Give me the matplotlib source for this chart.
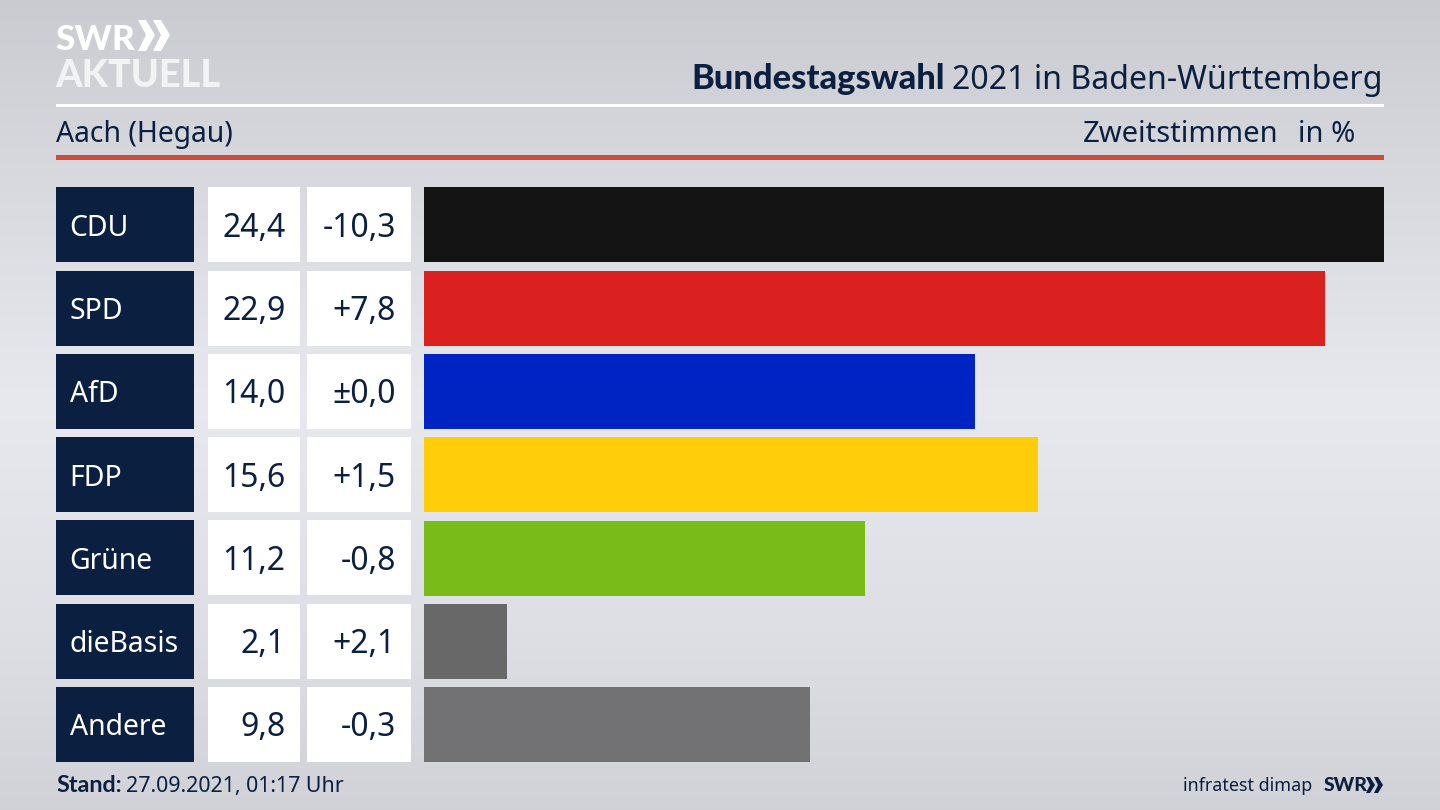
import numpy as np
import matplotlib
matplotlib.use("Agg")
import matplotlib.pyplot as plt
from matplotlib.patches import Rectangle, Polygon

parties = ["CDU", "SPD", "AfD", "FDP", "Grüne", "dieBasis", "Andere"]
shares = [24.4, 22.9, 14.0, 15.6, 11.2, 2.1, 9.8]
share_labels = ["24,4", "22,9", "14,0", "15,6", "11,2", "2,1", "9,8"]
change_labels = ["-10,3", "+7,8", "±0,0", "+1,5", "-0,8", "+2,1", "-0,3"]
bar_colors = ["#141414", "#da211f", "#0023c4", "#ffcd0a", "#79bc1a", "#686868", "#727274"]

NAVY = "#0b1f40"
BOLD = ["Lato", "Liberation Sans", "DejaVu Sans"]
plt.rcParams["font.family"] = ["Noto Sans", "DejaVu Sans"]

fig = plt.figure(figsize=(14.4, 8.1), dpi=100)

# overlay in pixel coordinates, y going down like the reference
bg = fig.add_axes([0, 0, 1, 1])
bg.set_xlim(0, 1440)
bg.set_ylim(810, 0)
bg.axis("off")


def box(x, y, w, h, color, z=2):
    bg.add_patch(Rectangle((x, y), w, h, facecolor=color, edgecolor="none", zorder=z))


# background: light band in the middle, darker to top and bottom
stops_y = [0, 130, 400, 640, 810]
stops_v = [0.79, 0.83, 0.905, 0.865, 0.815]
grad = np.interp(np.arange(810), stops_y, stops_v)
rgb = np.stack([grad, grad + 0.008, grad + 0.03], axis=1)[:, None, :]
bg.imshow(np.clip(rgb, 0, 1), extent=[0, 1440, 810, 0], aspect="auto", zorder=0)

# logo
bg.text(55, 50, "SWR", color="white", fontsize=25.5, fontweight="black", family=BOLD, va="baseline", ha="left")
for x0 in [138, 153]:
    bg.add_patch(Polygon([(x0, 20), (x0 + 8, 20), (x0 + 17, 35), (x0 + 8, 51), (x0, 51), (x0 + 8, 35)],
                         facecolor="white", edgecolor="none", zorder=2))
bg.text(55, 87, "AKTUELL", color="#f2f3f5", fontsize=27.3, fontweight="black", family=BOLD, va="baseline", ha="left")

# header
bg.text(1383, 89, "2021 in Baden-Württemberg", color=NAVY, fontsize=23.1, ha="right", va="baseline")
bg.text(945, 89, "Bundestagswahl", color=NAVY, fontsize=24.8, fontweight="black", family=BOLD, ha="right", va="baseline")
box(56, 104, 1328, 3, "white")
bg.text(56, 142, "Aach (Hegau)", color=NAVY, fontsize=20.4, va="baseline", ha="left")
bg.text(1278.5, 142, "Zweitstimmen", color=NAVY, fontsize=21, va="baseline", ha="right")
bg.text(1355, 142, "in %", color=NAVY, fontsize=21, va="baseline", ha="right")
box(56, 155, 1328, 5, "#cd4d3c")

# table cells left of the bars
row_top = 187.4
row_step = 83.25
row_h = 75
for i in range(len(parties)):
    y = row_top + i * row_step
    base = y + row_h / 2 + 12
    box(56, y, 138, row_h, NAVY)
    box(208, y, 92, row_h, "white")
    box(307, y, 104, row_h, "white")
    bg.text(69.5, base - 1, parties[i], color="white", fontsize=20.4, va="baseline", ha="left", zorder=3)
    bg.text(285.5, base, share_labels[i], color=NAVY, fontsize=23, va="baseline", ha="right", zorder=3)
    bg.text(396, base, change_labels[i], color=NAVY, fontsize=23, va="baseline", ha="right", zorder=3)

# bars
ax = fig.add_axes([424 / 1440, (810 - 762.4) / 810, 960 / 1440, 575 / 810])
ax.patch.set_alpha(0)
ypos = np.arange(len(parties))
ax.barh(ypos, shares, height=row_h / row_step, color=bar_colors)
ax.set_xlim(0, max(shares))
ax.set_ylim(len(parties) - 1 + row_h / row_step / 2, -row_h / row_step / 2)
ax.axis("off")

# footer
bg.text(56, 792, "Stand:", color=NAVY, fontsize=16.8, fontweight="bold", family=BOLD, va="baseline", ha="left")
bg.text(126, 792, "27.09.2021, 01:17 Uhr", color=NAVY, fontsize=15.4, va="baseline", ha="left")
bg.text(1312, 791, "infratest dimap", color=NAVY, fontsize=12.9, va="baseline", ha="right")
bg.text(1324, 791, "SWR", color=NAVY, fontsize=14, fontweight="black", family=BOLD, va="baseline", ha="left")
for x0 in [1366, 1374]:
    bg.add_patch(Polygon([(x0, 777), (x0 + 4, 777), (x0 + 9, 785), (x0 + 4, 793), (x0, 793), (x0 + 4, 785)],
                         facecolor=NAVY, edgecolor="none", zorder=2))

fig.savefig("out.png", dpi=100)
